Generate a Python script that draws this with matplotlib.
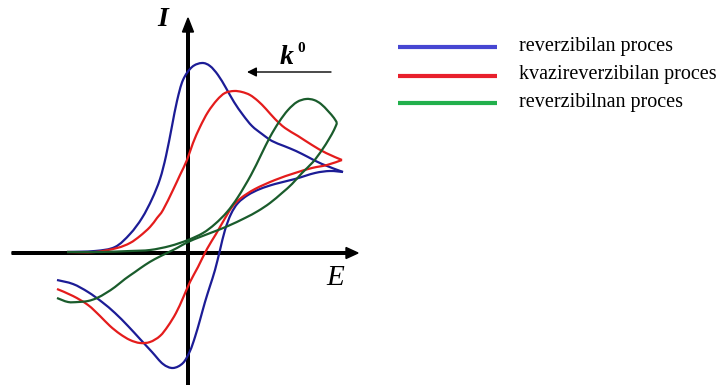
import matplotlib.pyplot as plt
from matplotlib.patches import FancyArrow, PathPatch
from matplotlib.path import Path

# origin of the E/I axes in the picture (pixels)
X0, Y0 = 188, 253

# curves, (x, y) in pixels; forward sweep, then return sweep
blue_fwd = [(67, 252), (95, 251), (115, 247), (130, 234), (142, 218), (152, 199), (160, 179),
            (166, 156), (172, 126), (177, 101), (183, 80), (192, 67), (202, 63), (210, 66),
            (218, 75), (226, 88), (234, 102), (243, 115), (252, 126), (262, 134), (272, 141),
            (284, 146), (296, 151), (308, 157), (322, 164), (343, 172)]
blue_ret = [(343, 172), (330, 171), (315, 173), (295, 179), (275, 184), (260, 189), (248, 195),
            (238, 203), (231, 214), (225, 230), (220, 250), (215, 270), (210, 286), (205, 302),
            (200, 320), (195, 337), (190, 351), (183, 363), (173, 368), (163, 364), (152, 352),
            (140, 339), (128, 326), (115, 313), (102, 302), (88, 292), (73, 284), (57, 280)]

red_fwd = [(67, 252), (95, 252), (117, 248), (130, 243), (140, 236), (150, 227), (157, 218),
           (163, 210), (173, 190), (180, 175), (187, 160), (193, 143), (200, 127), (208, 112),
           (217, 100), (225, 93), (234, 91), (242, 92), (250, 95), (258, 101), (266, 109),
           (275, 119), (285, 128), (298, 136), (312, 145), (326, 153), (342, 160)]
red_ret = [(342, 160), (327, 165), (312, 168), (295, 173), (275, 180), (255, 189), (241, 198),
           (232, 207), (224, 220), (216, 234), (207, 249), (198, 267), (190, 282), (183, 298),
           (176, 313), (168, 326), (160, 336), (150, 342), (140, 343), (130, 340), (120, 334),
           (110, 326), (100, 316), (88, 305), (73, 296), (57, 289)]

green_fwd = [(67, 252), (100, 252), (130, 251), (150, 250), (170, 246), (188, 240), (203, 233),
             (215, 224), (227, 212), (238, 197), (251, 175), (261, 155), (270, 137), (279, 122),
             (288, 110), (297, 102), (306, 99), (314, 100), (321, 104), (328, 111), (334, 118),
             (337, 123)]
green_ret = [(337, 123), (334, 130), (329, 139), (322, 150), (313, 162), (302, 173), (292, 184),
             (282, 193), (270, 203), (258, 211), (245, 218), (228, 226), (213, 232), (200, 237),
             (188, 242), (177, 248), (167, 253), (155, 259), (145, 265), (135, 272), (125, 279),
             (115, 287), (106, 293), (97, 298), (88, 301), (78, 302), (68, 302), (57, 298)]

labels = ['reverzibilan proces', 'kvazireverzibilan proces', 'reverzibilnan proces']
curve_colors = ['#1c1c96', '#e41c1c', '#1a5c2c']
legend_colors = ['#4646d2', '#e8202c', '#22b04c']

W, H = 721, 385
fig = plt.figure(figsize=(W / 100, H / 100), dpi=100)
ax = fig.add_axes([0, 0, 1, 1])
ax.set_xlim(-X0, W - X0)
ax.set_ylim(Y0 - H, Y0)
ax.axis('off')


def px(x, y):
    # pixel position -> axes fraction
    return x / W, 1 - y / H


def smooth_path(pts):
    # Catmull-Rom through the read points, drawn as cubic Bezier segments
    P = [(x - X0, Y0 - y) for x, y in pts]
    verts = [P[0]]
    codes = [Path.MOVETO]
    n = len(P)
    for i in range(n - 1):
        p0 = P[i - 1] if i > 0 else P[i]
        p1, p2 = P[i], P[i + 1]
        p3 = P[i + 2] if i + 2 < n else P[i + 1]
        c1 = (p1[0] + (p2[0] - p0[0]) / 6, p1[1] + (p2[1] - p0[1]) / 6)
        c2 = (p2[0] - (p3[0] - p1[0]) / 6, p2[1] - (p3[1] - p1[1]) / 6)
        verts += [c1, c2, p2]
        codes += [Path.CURVE4] * 3
    return Path(verts, codes)


# axes with arrow heads
ax.add_patch(FancyArrow(12 - X0, 0, 346, 0, width=2.6, head_width=11, head_length=12,
                        length_includes_head=True, color='black', zorder=1))
ax.add_patch(FancyArrow(0, Y0 - H, 0, H - 18, width=2.6, head_width=11, head_length=14,
                        length_includes_head=True, color='black', zorder=1))

for fwd, ret, c in zip([blue_fwd, red_fwd, green_fwd], [blue_ret, red_ret, green_ret],
                       curve_colors):
    for part in (fwd, ret):
        ax.add_patch(PathPatch(smooth_path(part), fill=False, edgecolor=c, lw=1.6,
                               joinstyle='round', zorder=3))

ax.text(*px(163, 20), 'I', transform=ax.transAxes, ha='center', va='center',
        fontsize=20, style='italic', weight='bold', family='Liberation Serif')
ax.text(*px(335, 278), 'E', transform=ax.transAxes, ha='center', va='center',
        fontsize=21, style='italic', family='Liberation Serif')
ax.text(*px(287, 58), 'k', transform=ax.transAxes, ha='center', va='center',
        fontsize=20, style='italic', weight='bold', family='Liberation Serif')
ax.text(*px(301, 48), '0', transform=ax.transAxes, ha='center', va='center',
        fontsize=11, weight='bold', family='Liberation Serif')
ax.annotate('', xy=px(247, 72), xytext=px(331, 72), xycoords='axes fraction',
            textcoords='axes fraction',
            arrowprops=dict(arrowstyle='-|>', color='black', lw=1.0,
                            mutation_scale=14, shrinkA=0, shrinkB=0))

# legend
legend_y = [47, 76, 103]
for lab, c, y in zip(labels, legend_colors, legend_y):
    ax.plot([px(398, y)[0], px(497, y)[0]], [px(398, y)[1]] * 2, color=c, lw=3,
            transform=ax.transAxes, solid_capstyle='butt')
    ax.text(*px(519, y - 1), lab, transform=ax.transAxes, ha='left', va='center',
            fontsize=14.5, family='Liberation Serif')

fig.savefig('out.png', dpi=100)
